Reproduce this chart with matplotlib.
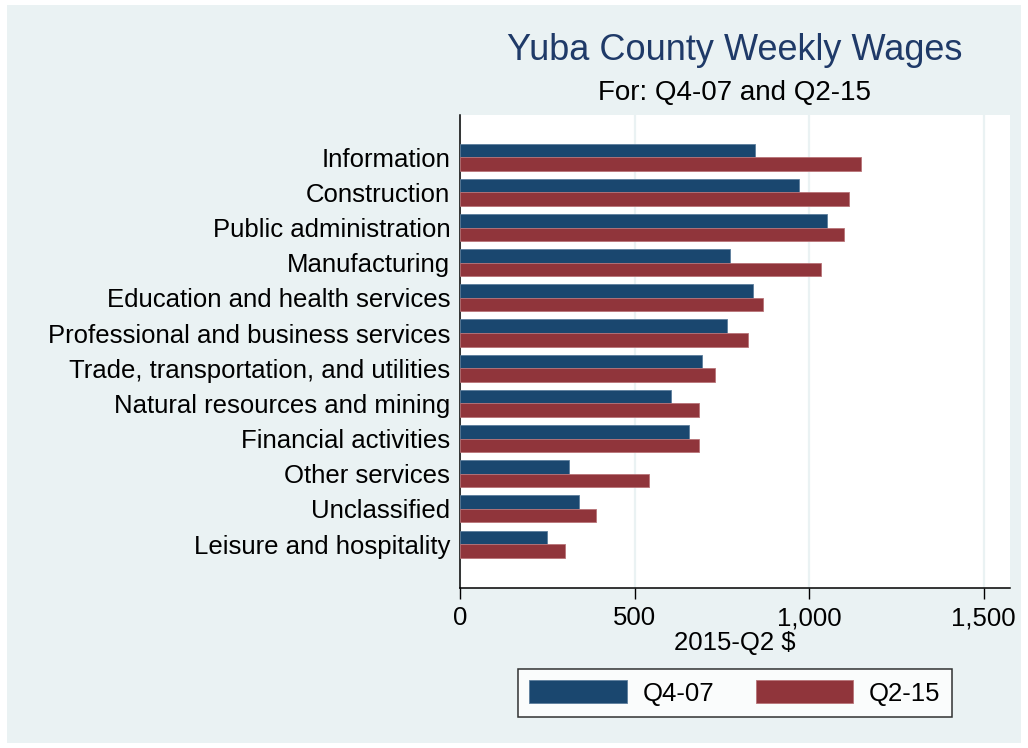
import matplotlib.pyplot as plt
from matplotlib.patches import Rectangle

# industries, top to bottom
industries = ['Information', 'Construction', 'Public administration', 'Manufacturing',
              'Education and health services', 'Professional and business services',
              'Trade, transportation, and utilities', 'Natural resources and mining',
              'Financial activities', 'Other services', 'Unclassified',
              'Leisure and hospitality']
q4_07 = [845, 971, 1050, 773, 838, 765, 692, 604, 655, 312, 340, 250]
q2_15 = [1147, 1114, 1101, 1034, 868, 824, 731, 685, 683, 542, 389, 301]
xticks = [0, 500, 1000, 1500]
xticklabels = ['0', '500', '1,000', '1,500']

plt.rcParams['font.family'] = ['Liberation Sans', 'DejaVu Sans']

bg = '#EAF2F3'
blue = '#1A476F'
red = '#90353B'
fs = 18.5

fig = plt.figure(figsize=(10.28, 7.48), dpi=100, facecolor='white')
# light panel with thin white margin
fig.patches.append(Rectangle((7 / 1028, 5 / 748), 1014 / 1028, 738 / 748,
                             transform=fig.transFigure, facecolor=bg,
                             edgecolor='none', zorder=-1))

ax = fig.add_axes([460 / 1028, 1 - 588 / 748, 550 / 1028, 473 / 748])
ax.set_facecolor('white')

h = 0.385
pos = list(range(len(industries)))
ax.barh([p - h / 2 for p in pos], q4_07, height=h, color=blue,
        edgecolor='#5C7E9C', linewidth=0.6, label='Q4-07', zorder=3)
ax.barh([p + h / 2 for p in pos], q2_15, height=h, color=red,
        edgecolor='#B87378', linewidth=0.6, label='Q2-15', zorder=3)

ax.set_ylim(len(industries) - 1 + 1.25, -1.2)
ax.set_xlim(0, 1575)
ax.set_yticks(pos)
ax.set_yticklabels(industries, fontsize=fs)
ax.tick_params(axis='y', length=0, pad=7)
ax.set_xticks(xticks)
ax.set_xticklabels(xticklabels, fontsize=fs)
ax.tick_params(axis='x', length=8, width=1, direction='out', pad=5)
ax.xaxis.grid(True, color=bg, linewidth=1.6, zorder=0)
ax.set_axisbelow(True)
for s in ['top', 'right']:
    ax.spines[s].set_visible(False)
for s in ['left', 'bottom']:
    ax.spines[s].set_linewidth(1.1)
    ax.spines[s].set_color('black')
ax.set_xlabel('2015-Q2 $', fontsize=fs, labelpad=1)

fig.text(735 / 1028, 1 - 51 / 748, 'Yuba County Weekly Wages', fontsize=26,
         color='#1F3A68', ha='center', va='center')
fig.text(735 / 1028, 1 - 93 / 748, 'For: Q4-07 and Q2-15', fontsize=20,
         color='black', ha='center', va='center')

leg = fig.legend(loc='center', bbox_to_anchor=(735 / 1028, 1 - 693 / 748), ncol=2,
                 fontsize=fs, frameon=True, fancybox=False, handlelength=3.8,
                 handleheight=1.0, columnspacing=1.6, handletextpad=0.62,
                 borderpad=0.43)
leg.get_frame().set_edgecolor('black')
leg.get_frame().set_linewidth(1.1)

fig.savefig('out.png', dpi=100, facecolor='white')
